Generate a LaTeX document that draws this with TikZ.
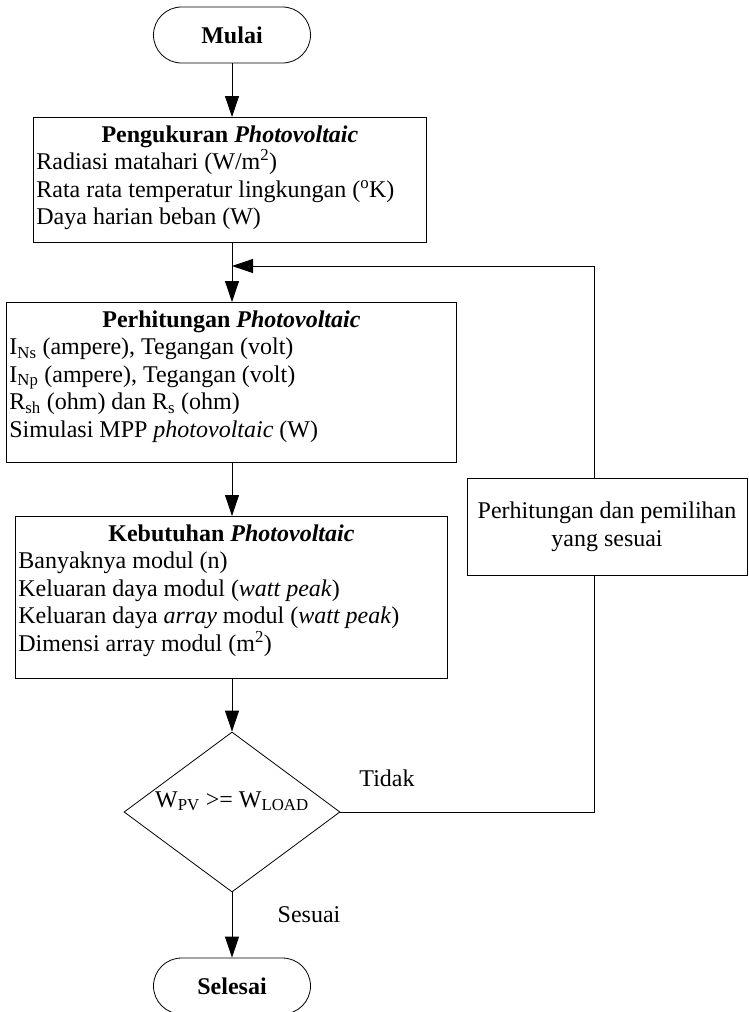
\documentclass[tikz,border=0pt]{standalone}
\usepackage{fontspec}
\setmainfont{Liberation Serif}
\usetikzlibrary{arrows.meta,shapes.geometric,calc}
\newcommand{\judul}[1]{\makebox[\linewidth]{\textbf{#1}}}

\begin{document}
\begin{tikzpicture}[x=1pt,y=-1pt,>={Triangle[length=21pt,width=14pt]},line width=0.8pt,
  font=\fontsize{24}{27.6}\selectfont,
  term/.style={draw,rounded corners=28pt,minimum width=157pt,minimum height=56pt,
    font=\fontsize{24}{27.6}\selectfont\bfseries},
  proc/.style={draw,anchor=north west,inner xsep=3pt,inner ysep=8pt},
  cond/.style={draw,diamond,aspect=1.35,minimum width=216pt,minimum height=160pt,
    inner sep=0pt,text height=16pt,text depth=26pt}]
  \useasboundingbox (0,0) rectangle (749,1012);

  \node[term] (mulai) at (232,35) {Mulai};
  \node[proc] (ukur) at (33,117) {\parbox[c][109pt][t]{387pt}{%
    \judul{Pengukuran \textit{Photovoltaic}}\\
    Radiasi matahari (W/m\textsuperscript{2})\\
    Rata rata temperatur lingkungan (\textsuperscript{o}K)\\
    Daya harian beban (W)}};
  \node[proc] (hitung) at (6,302) {\parbox[c][144pt][t]{444pt}{%
    \judul{Perhitungan \textit{Photovoltaic}}\\
    I\textsubscript{Ns} (ampere), Tegangan (volt)\\
    I\textsubscript{Np} (ampere), Tegangan (volt)\\
    R\textsubscript{sh} (ohm) dan R\textsubscript{s} (ohm)\\
    Simulasi MPP \textit{photovoltaic} (W)}};
  \node[proc] (butuh) at (15,516) {\parbox[c][146pt][t]{426pt}{%
    \judul{Kebutuhan \textit{Photovoltaic}}\\
    Banyaknya modul (n)\\
    Keluaran daya modul (\textit{watt peak})\\
    Keluaran daya \textit{array} modul (\textit{watt peak})\\
    Dimensi array modul (m\textsuperscript{2})}};
  \node[draw,minimum width=280pt,minimum height=97pt,align=center] (pilih) at (607,526.5)
    {Perhitungan dan pemilihan\\yang sesuai};
  \node[cond] (cek) at (232,812) {W\textsubscript{PV} >= W\textsubscript{LOAD}};
  \node[term] (selesai) at (232,986) {Selesai};
  \node (tidak) at (387,778) {Tidak};
  \node (sesuai) at (309,915) {Sesuai};

  \coordinate (sumbu) at (232,0);
  \coordinate (balik) at (594,0);
  \coordinate (temu) at (232,266);

  \draw[->] (mulai) -- (sumbu |- ukur.north);
  \draw[->] (sumbu |- ukur.south) -- (sumbu |- hitung.north);
  \draw[->] (sumbu |- hitung.south) -- (sumbu |- butuh.north);
  \draw[->] (sumbu |- butuh.south) -- (cek);
  \draw[->] (cek) -- (selesai);
  \draw (cek.east) -| (balik |- pilih.south);
  \draw[->] (balik |- pilih.north) |- (temu);
\end{tikzpicture}
\end{document}
